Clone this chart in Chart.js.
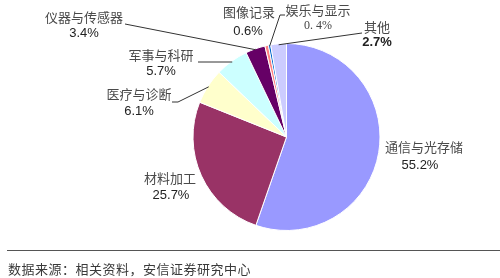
<!DOCTYPE html>
<html>
<head>
<meta charset="utf-8">
<script src="https://cdn.jsdelivr.net/npm/chart.js@4"></script>
<style>
html,body{margin:0;padding:0;background:#fff;}
#wrap{position:relative;width:500px;height:278px;}
</style>
</head>
<body>
<div id="wrap"><canvas id="c" width="500" height="278"></canvas></div>
<script>
// ---- data ----
const categories = ["通信与光存储","材料加工","医疗与诊断","军事与科研","仪器与传感器","图像记录","娱乐与显示","其他"];
const shares = [55.2, 25.7, 6.1, 5.7, 3.4, 0.6, 0.4, 2.7];
const shareLabels = ["55.2%","25.7%","6.1%","5.7%","3.4%","0.6%","0. 4%","2.7%"];
const sourceNote = "数据来源：相关资料，安信证券研究中心";

// ---- styles / layout ----
const colors = ["#9999FF","#993366","#FFFFCC","#CCFFFF","#660066","#FF8080","#0066CC","#CCCCFF"];
// label centre positions [nameX, nameY, valueX, valueY] and leader-line waypoints (null = none)
const labelLayout = [
  {n:[424,147], v:[420,165], line:null},
  {n:[170,178], v:[171,195], line:null},
  {n:[139,94],  v:[139,111], line:[[172,102],[178,102]]},
  {n:[161,55],  v:[161,71],  line:[[198,62]]},
  {n:[84,17],   v:[84,33],   line:[[125,24]]},
  {n:[249,12],  v:[248,31],  line:null},
  {n:[318,10],  v:[318,26],  line:[[285,15],[280,15]], serif:true},
  {n:[377,27],  v:[377,42],  line:[[362,33]], boldVal:true}
];

const labelPlugin = {
  id:'labels',
  afterDraw(chart){
    const ctx = chart.ctx;
    const meta = chart.getDatasetMeta(0);
    ctx.save();
    // leader lines
    ctx.strokeStyle = '#333';
    ctx.lineWidth = 1;
    meta.data.forEach((arc, i) => {
      const L = labelLayout[i];
      if (!L.line) return;
      const mid = (arc.startAngle + arc.endAngle) / 2;
      const r = arc.outerRadius * 0.99;
      const ex = arc.x + Math.cos(mid) * r;
      const ey = arc.y + Math.sin(mid) * r;
      ctx.beginPath();
      ctx.moveTo(L.line[0][0], L.line[0][1]);
      for (let k = 1; k < L.line.length; k++) ctx.lineTo(L.line[k][0], L.line[k][1]);
      ctx.lineTo(ex, ey);
      ctx.stroke();
    });
    // texts
    ctx.textAlign = 'center';
    ctx.textBaseline = 'middle';
    categories.forEach((name, i) => {
      const L = labelLayout[i];
      ctx.fillStyle = '#4a4a4a';
      ctx.font = '13px "Noto Sans CJK SC"';
      ctx.fillText(name, L.n[0], L.n[1]);
      if (L.serif) { ctx.font = '12px "Liberation Serif"'; ctx.fillStyle = '#444'; }
      else if (L.boldVal) { ctx.font = 'bold 13px "Liberation Sans"'; ctx.fillStyle = '#222'; }
      else { ctx.font = '13px "Liberation Sans"'; ctx.fillStyle = '#222'; }
      ctx.fillText(shareLabels[i], L.v[0], L.v[1]);
    });
    // footer rule and note
    ctx.strokeStyle = '#555';
    ctx.lineWidth = 1.2;
    ctx.beginPath();
    ctx.moveTo(7, 250.5);
    ctx.lineTo(500, 250.5);
    ctx.stroke();
    ctx.textAlign = 'left';
    ctx.fillStyle = '#3a3a3a';
    ctx.font = '13px "Noto Sans CJK SC"';
    ctx.letterSpacing = '0.5px';
    ctx.fillText(sourceNote, 8, 269);
    ctx.restore();
  }
};

new Chart(document.getElementById('c'), {
  type: 'pie',
  data: {
    labels: categories,
    datasets: [{
      data: shares,
      backgroundColor: colors,
      borderColor: '#ffffff',
      borderWidth: 1
    }]
  },
  options: {
    responsive: false,
    animation: false,
    layout: { padding: { top: 43, bottom: 47, left: 192, right: 119 } },
    plugins: { legend: { display: false }, tooltip: { enabled: false } }
  },
  plugins: [labelPlugin]
});
</script>
</body>
</html>
